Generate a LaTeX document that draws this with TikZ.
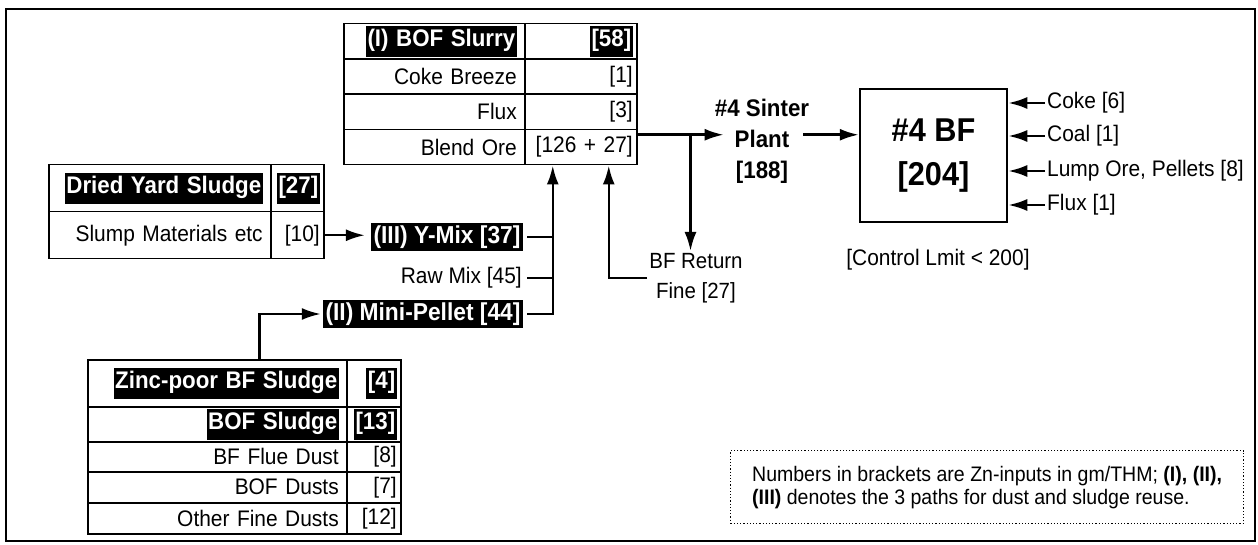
\documentclass[tikz,border=0pt]{standalone}
\usepackage{fontspec}
\setmainfont{Liberation Sans}[FakeStretch=0.93]
\usetikzlibrary{arrows.meta,positioning,calc}

% white text on a black band
\newcommand{\hl}[1]{{\fontsize{24pt}{28pt}\selectfont\bfseries\setlength{\fboxsep}{1.5pt}\colorbox{black}{\color{white}\strut#1}}}
\newcommand{\txt}{\fontsize{22.5pt}{26pt}\selectfont}

\begin{document}
\begin{tikzpicture}[x=1pt, y=-1pt, font=\txt,
  cell/.style={draw, line width=1.5pt, anchor=north west, inner xsep=8pt, inner ysep=0pt, align=right},
  numcell/.style={cell, inner xsep=4pt},
  tag/.style={fill=black, text=white, font=\fontsize{24.5pt}{28pt}\selectfont\bfseries, inner sep=2.5pt},
  flow/.style={line width=2.5pt, -{Latex[length=19pt,width=12pt]}},
  link/.style={line width=2.5pt}]
  \useasboundingbox (0,0) rectangle (1258,545);
  \draw[line width=2pt] (6,9) rectangle (1255,541);

  % sinter feed table
  \node[cell, text width=165pt, minimum height=35.25pt] (bofA) at (343,23) {\hl{(I) BOF Slurry}};
  \node[numcell, text width=104pt, minimum height=35.25pt] (bofB) at (524,23) {\hl{[58]}};
  \node[cell, text width=165pt, minimum height=35.25pt] (cokeA) at (343,58.25) {Coke Breeze};
  \node[numcell, text width=104pt, minimum height=35.25pt] (cokeB) at (524,58.25) {[1]};
  \node[cell, text width=165pt, minimum height=35.25pt] (fluxA) at (343,93.5) {Flux};
  \node[numcell, text width=104pt, minimum height=35.25pt] (fluxB) at (524,93.5) {[3]};
  \node[cell, text width=165pt, minimum height=35.25pt] (blendA) at (343,128.75) {Blend Ore};
  \node[numcell, text width=104pt, minimum height=35.25pt] (blendB) at (524,128.75) {[126 + 27]};

  % Y-mix table
  \node[cell, text width=206pt, minimum height=47pt] (dryA) at (48,164) {\hl{Dried Yard Sludge}};
  \node[numcell, text width=45pt, minimum height=47pt] (dryB) at (270,164) {\hl{[27]}};
  \node[cell, text width=206pt, minimum height=47pt] (slumpA) at (48,211) {Slump Materials etc};
  \node[numcell, text width=45pt, minimum height=47pt] (slumpB) at (270,211) {[10]};

  % mini-pellet table
  \node[cell, text width=243pt, minimum height=47pt] (zincA) at (87,359) {\hl{Zinc-poor BF Sludge}};
  \node[numcell, text width=46pt, minimum height=47pt] (zincB) at (346,359) {\hl{[4]}};
  \node[cell, text width=243pt, minimum height=35pt] (bofsA) at (87,406) {\hl{BOF Sludge}};
  \node[numcell, text width=46pt, minimum height=35pt] (bofsB) at (346,406) {\hl{[13]}};
  \node[cell, text width=243pt, minimum height=30pt] (flueA) at (87,441) {BF Flue Dust};
  \node[numcell, text width=46pt, minimum height=30pt] (flueB) at (346,441) {[8]};
  \node[cell, text width=243pt, minimum height=31pt] (dustA) at (87,471) {BOF Dusts};
  \node[numcell, text width=46pt, minimum height=31pt] (dustB) at (346,471) {[7]};
  \node[cell, text width=243pt, minimum height=31pt] (otherA) at (87,502) {Other Fine Dusts};
  \node[numcell, text width=46pt, minimum height=31pt] (otherB) at (346,502) {[12]};

  \node[tag] (ymix) at (447,237) {(III) Y-Mix [37]};
  \node[anchor=east, inner sep=2pt] (rawmix) at (524,278) {Raw Mix [45]};
  \node[tag] (mini) at (423,314) {(II) Mini-Pellet [44]};

  \node[font=\fontsize{24pt}{31pt}\selectfont\bfseries, align=center, inner sep=2pt] (sinter) at (762,141) {\#4 Sinter\\Plant\\{[188]}};
  \node[align=center, inner sep=2pt, font=\fontsize{22pt}{30pt}\selectfont] (ret) at (696,278) {BF Return\\Fine [27]};

  \node[draw, line width=2.5pt, minimum width=147pt, minimum height=133pt, align=center,
        font=\fontsize{33pt}{44pt}\selectfont\bfseries] (bf) at (933.5,155.5) {\#4 BF\\{[204]}};
  \node[anchor=west, inner sep=2pt] (coke) at (1045,103) {Coke [6]};
  \node[anchor=west, inner sep=2pt] (coal) at (1045,136) {Coal [1]};
  \node[anchor=west, inner sep=2pt] (lump) at (1045,171) {Lump Ore, Pellets [8]};
  \node[anchor=west, inner sep=2pt] (bflux) at (1045,205) {Flux [1]};
  \node (limit) at (938,260) {[Control Lmit < 200]};

  \node[draw, dotted, line width=1.2pt, anchor=north west, minimum width=513pt, minimum height=73pt,
        align=left, font=\fontsize{21pt}{23pt}\selectfont] (note) at (730,450)
    {Numbers in brackets are Zn-inputs in gm/THM; \textbf{(I), (II),}\\\textbf{(III)} denotes the 3 paths for dust and sludge reuse.};

  % connectors
  \coordinate (inL) at ([xshift=-28pt]blendB.south);
  \coordinate (inR) at ([xshift=28pt]blendB.south);
  \coordinate (split) at ([yshift=-6pt]blendB.north east);
  \coordinate (brk) at ($(split)+(53,0)$);
  \coordinate (zup) at ([xshift=42pt]zincA.north);

  \draw[flow, shorten >=6pt] (slumpB.east) -- (slumpB.east -| ymix.west);
  \draw[flow, shorten >=2pt] (zup) |- (mini.west);
  \draw[link, shorten <=4pt] (ymix.east) -- (ymix.east -| inL);
  \draw[link, shorten <=3pt] (rawmix.east) -- (rawmix.east -| inL);
  \draw[flow, shorten <=4pt] (mini.east) -| (inL);
  \draw[flow] (ret.west) -| (inR);
  \draw[flow] (split) -- ($(split -| sinter.west)+(11,0)$);
  \draw[flow] (brk) -- (brk |- ret.north);
  \draw[flow] ($(split -| sinter.east)+(-8,0)$) -- (split -| bf.west);
  \draw[flow] (coke.west) -- (coke.west -| bf.east);
  \draw[flow] (coal.west) -- (coal.west -| bf.east);
  \draw[flow] (lump.west) -- (lump.west -| bf.east);
  \draw[flow] (bflux.west) -- (bflux.west -| bf.east);
\end{tikzpicture}
\end{document}
